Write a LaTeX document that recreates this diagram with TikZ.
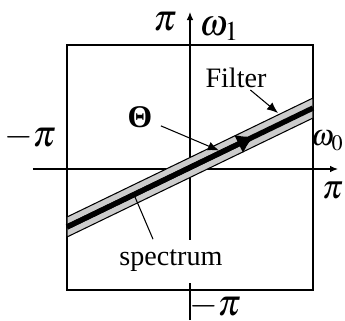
\documentclass[tikz,border=0pt]{standalone}
\usepackage{mathptmx}
\usepackage{fontspec}
\setmainfont{Liberation Serif}
\usetikzlibrary{arrows.meta,positioning,calc}

\begin{document}
\begin{tikzpicture}[
  font=\fontsize{16}{18}\selectfont,
  lbl/.style={inner sep=1pt},
  mlbl/.style={inner sep=0pt, font=\fontsize{21}{24}\selectfont},
  axis/.style={line width=0.6pt, -{Latex[length=1.6mm,width=1.3mm]}},
  band/.style={draw, line width=0.6pt, fill=gray!40},
  >={Latex[length=2.2mm,width=1.8mm]}
]
\useasboundingbox (-3.8,-3.02) rectangle (3.1,3.38);
% frequency plane
\draw[line width=0.6pt] (-2.46,-2.42) rectangle (2.46,2.48);
\coordinate (xl) at (-3.14,0);
\coordinate (xr) at (2.96,0);
\coordinate (yb) at (0,-3.02);
\coordinate (yt) at (0,3.14);
\draw[axis] (xl) -- (xr);
\draw[axis] (yb) -- (yt);
% filter passband
\draw[band] (-2.46,-0.96) -- (2.46,1.42) -- (2.46,1.02) -- (-2.46,-1.36) -- cycle;
\coordinate (sl) at (-2.46,-1.16);
\coordinate (sm) at (1.28,0.65);
\coordinate (sr) at (2.46,1.22);
\draw[line width=3pt] (sl) -- (sr);
\draw[line width=3pt, -{Latex[length=3.4mm,width=4.2mm]}] (sl) -- (sm);
% labels
\node[mlbl] (pitop) at (-0.5,2.94) {$\pi$};
\node[mlbl, anchor=west] (wone) at (0.18,2.8) {$\omega_1$};
\node[mlbl] (pileft) at (-3.2,0.64) {$-\pi$};
\node[mlbl, anchor=east, font=\fontsize{17}{20}\selectfont] (wzero) at (3.08,0.56) {$\omega_0$};
\node[mlbl, anchor=east, font=\fontsize{19}{22}\selectfont] (piright) at (3.07,-0.44) {$\pi$};
\node[mlbl] (pibot) at (0.5,-2.74) {$-\pi$};
\node[lbl, font=\fontsize{18}{20}\selectfont] (theta) at (-1.0,1.04) {\textbf{Θ}};
\node[lbl] (filter) at (0.92,1.82) {Filter};
\node[fill=white, inner xsep=1pt, minimum height=0.86cm] (spec) at (-0.38,-1.84) {spectrum};
\coordinate (thetatip) at (0.58,0.37);
\coordinate (filtertip) at (1.76,1.12);
\coordinate (spectip) at (-1.1,-0.56);
\draw[->, line width=0.6pt, shorten <=4pt] (theta) -- (thetatip);
\draw[->, line width=0.6pt] (filter) -- (filtertip);
\draw[line width=0.6pt] ($(spec.north)+(-0.36,0)$) -- (spectip);
\end{tikzpicture}
\end{document}
